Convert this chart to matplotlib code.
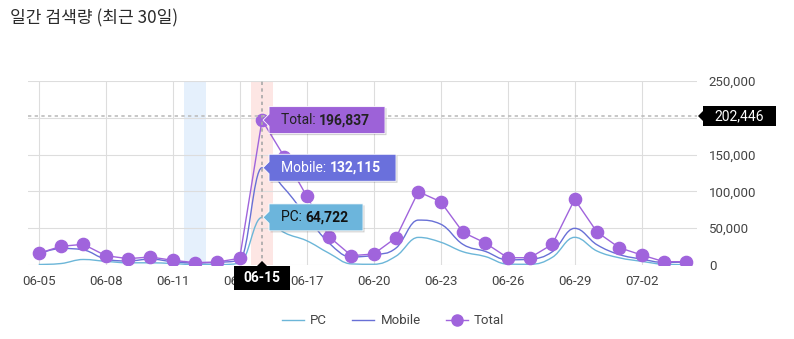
import matplotlib
matplotlib.use('Agg')
import matplotlib.pyplot as plt
from matplotlib.path import Path
from matplotlib.patches import PathPatch, Polygon
from matplotlib.lines import Line2D
from matplotlib.transforms import IdentityTransform
from matplotlib.ticker import FuncFormatter

plt.rcParams['font.family'] = ['Roboto', 'Noto Sans CJK KR', 'DejaVu Sans']

dates = ['06-05', '06-06', '06-07', '06-08', '06-09', '06-10', '06-11', '06-12',
         '06-13', '06-14', '06-15', '06-16', '06-17', '06-18', '06-19', '06-20',
         '06-21', '06-22', '06-23', '06-24', '06-25', '06-26', '06-27', '06-28',
         '06-29', '06-30', '07-01', '07-02', '07-03', '07-04']
pc = [700, 2000, 7500, 5000, 3000, 3000, 2000, 500, 500, 2500,
      64722, 44000, 33000, 16000, 1500, 1000, 12000, 37500, 31000, 18000,
      11500, 1200, 1000, 10400, 37600, 19000, 9800, 5000, 1000, 500]
mobile = [15000, 22500, 20500, 8000, 5500, 8000, 4500, 2700, 3600, 6600,
          132115, 104000, 66000, 30000, 11000, 13500, 23000, 61000, 55500, 28000,
          18500, 7000, 8000, 18000, 49800, 27500, 14200, 8000, 3500, 4000]
total = [15900, 25400, 28100, 12700, 8600, 10900, 6400, 3200, 4100, 9100,
         196837, 147000, 93700, 38500, 12700, 14900, 37100, 99600, 86000, 44400,
         29900, 9900, 9900, 28100, 89200, 44800, 23500, 13600, 4500, 4500]

hover = 10            # 06-15
weekend_band = 7      # 06-12
cursor_value = 202446

c_pc = '#6cb6d8'
c_mobile = '#6870d6'
c_total = '#a064dc'
text_c = '#444444'


def spline_path(xs, ys, smoothing=1.5):
    n = len(xs)
    left = [None] * n
    right = [None] * n
    for i in range(n):
        x, y = xs[i], ys[i]
        if i == 0 or i == n - 1:
            left[i] = right[i] = (x, y)
            continue
        lx, ly = xs[i - 1], ys[i - 1]
        nx, ny = xs[i + 1], ys[i + 1]
        d = smoothing + 1
        lcx, lcy = (smoothing * x + lx) / d, (smoothing * y + ly) / d
        rcx, rcy = (smoothing * x + nx) / d, (smoothing * y + ny) / d
        corr = (rcy - lcy) * (rcx - x) / (rcx - lcx) + y - rcy
        lcy += corr
        rcy += corr
        if lcy > ly and lcy > y:
            lcy = max(ly, y); rcy = 2 * y - lcy
        elif lcy < ly and lcy < y:
            lcy = min(ly, y); rcy = 2 * y - lcy
        if rcy > ny and rcy > y:
            rcy = max(ny, y); lcy = 2 * y - rcy
        elif rcy < ny and rcy < y:
            rcy = min(ny, y); lcy = 2 * y - rcy
        left[i] = (lcx, lcy)
        right[i] = (rcx, rcy)
    verts = [(xs[0], ys[0])]
    codes = [Path.MOVETO]
    for i in range(1, n):
        verts += [right[i - 1], left[i], (xs[i], ys[i])]
        codes += [Path.CURVE4] * 3
    return Path(verts, codes)


fig = plt.figure(figsize=(7.94, 3.39), dpi=100)
ax = fig.add_axes([28 / 794, 1 - 265 / 339, 669 / 794, 184 / 339])
x = list(range(len(dates)))

ax.set_xlim(-0.48, 29.48)
ax.set_ylim(0, 250000)

ax.axvspan(weekend_band - 0.5, weekend_band + 0.5, color='#e5f0fc', zorder=0, lw=0)
ax.axvspan(hover - 0.5, hover + 0.5, color='#fde6e4', zorder=0, lw=0)

ax.add_patch(PathPatch(spline_path(x, pc), fill=False, ec=c_pc, lw=1.0, zorder=2))
ax.add_patch(PathPatch(spline_path(x, mobile), fill=False, ec=c_mobile, lw=1.0, zorder=2))
ax.plot(x, total, color=c_total, lw=1.0, marker='o', ms=8.8, mfc=c_total,
        mec=c_total, zorder=3)

# axes styling; the 200,000 label sits under the cursor value box
ax.set_xticks(x[::3])
ax.set_xticklabels(dates[::3])
ax.set_yticks(range(0, 250001, 50000))
ax.yaxis.set_major_formatter(
    FuncFormatter(lambda v, p: '' if int(v) == 200000 else f'{int(v):,}'))
ax.yaxis.tick_right()
ax.tick_params(axis='both', length=0, labelsize=9.5, labelcolor=text_c)
ax.tick_params(axis='x', pad=7)
ax.tick_params(axis='y', pad=8.5)
ax.grid(True, color='#dddddd', lw=0.8, zorder=0.5)
ax.set_axisbelow(True)
for s in ax.spines.values():
    s.set_visible(False)

# crosshair
ax.axhline(cursor_value, color='#bdbdbd', lw=1.2, ls=(0, (2, 2)), zorder=4)
ax.axvline(hover, color='#a8a8a8', lw=1.2, ls=(0, (2, 2)), zorder=4)

fig.text(10 / 794, 1 - 18 / 339, '일간 검색량 (최근 30일)', fontsize=12.3,
         color='#2a2a2a', va='center', ha='left', fontweight='medium',
         family=['Noto Sans CJK KR', 'DejaVu Sans'])

idt = IdentityTransform()


def to_px(xv, yv):
    return ax.transData.transform((xv, yv))


def tooltip(series, width, color, label, txt_color):
    px, py = to_px(hover, series[hover])
    h, ah, gap = 27, 6, 7
    x0 = px + gap
    pts = [(px + 1, py), (x0, py + ah), (x0, py + h / 2), (x0 + width, py + h / 2),
           (x0 + width, py - h / 2), (x0, py - h / 2), (x0, py - ah)]
    shadow = [(a + 1.5, b - 1.5) for a, b in pts]
    ax.add_patch(Polygon(shadow, closed=True, transform=idt, fc='black', alpha=0.18,
                         lw=0, clip_on=False, zorder=6))
    ax.add_patch(Polygon(pts, closed=True, transform=idt, fc=color, ec='white',
                         lw=0.6, clip_on=False, zorder=7))
    t1 = ax.text(x0 + 12, py, f'{label}: ', transform=idt, va='center', ha='left',
                 fontsize=10, color=txt_color, zorder=8)
    ax.annotate(f'{series[hover]:,}', xy=(1, 0.5), xycoords=t1, va='center',
                ha='left', fontsize=10, fontweight='bold', color=txt_color, zorder=8)


tooltip(total, 116, '#9d62d8', 'Total', '#222222')
tooltip(mobile, 127, '#6a70dc', 'Mobile', 'white')
tooltip(pc, 94, '#6cb5dc', 'PC', '#111111')

# x crosshair label
hx, _ = to_px(hover, 0)
top, bot, hw = 73, 49, 28
ax.add_patch(Polygon([(hx - hw, bot), (hx - hw, top), (hx - 5, top), (hx, top + 5),
                      (hx + 5, top), (hx + hw, top), (hx + hw, bot)],
                     closed=True, transform=idt, fc='black', lw=0, clip_on=False, zorder=9))
ax.text(hx, (top + bot) / 2, dates[hover], transform=idt, ha='center', va='center',
        fontsize=10, fontweight='bold', color='white', zorder=10)

# y crosshair label
rx, ry = to_px(29.48, cursor_value)
bx0, bx1, bh = 703, 776, 10
ax.add_patch(Polygon([(bx0 - 5, ry), (bx0, ry + 5), (bx0, ry + bh), (bx1, ry + bh),
                      (bx1, ry - bh), (bx0, ry - bh), (bx0, ry - 5)],
                     closed=True, transform=idt, fc='black', lw=0, clip_on=False, zorder=9))
ax.text((bx0 + bx1) / 2, ry, f'{cursor_value:,}', transform=idt, ha='center',
        va='center', fontsize=10, color='white', zorder=10)

handles = [Line2D([], [], color=c_pc, lw=1.0),
           Line2D([], [], color=c_mobile, lw=1.0),
           Line2D([], [], color=c_total, lw=1.0, marker='o', ms=8, mfc=c_total, mec=c_total)]
leg = ax.legend(handles, ['PC', 'Mobile', 'Total'], loc='center',
                bbox_to_anchor=(0.495, 1 - 321 / 339), bbox_transform=fig.transFigure,
                ncol=3, frameon=False, handlelength=1.7, handletextpad=0.45,
                columnspacing=1.9, fontsize=9.5)
for t in leg.get_texts():
    t.set_color(text_c)

fig.savefig('out.png', dpi=100)
